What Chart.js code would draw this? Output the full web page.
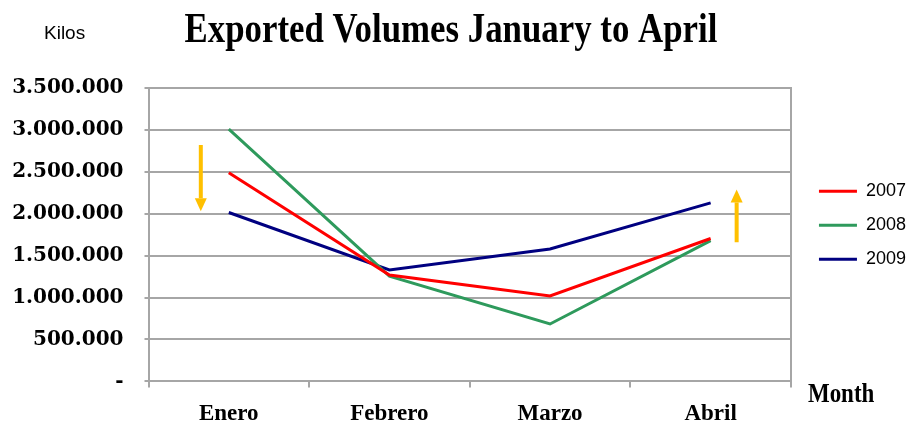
<!DOCTYPE html>
<html>
<head>
<meta charset="utf-8">
<script src="https://cdn.jsdelivr.net/npm/chart.js@4.4.1/dist/chart.umd.min.js"></script>
<style>
  html, body { margin: 0; padding: 0; background: #fff; }
  #wrap { width: 908px; height: 427px; }
</style>
</head>
<body>
<div id="wrap"><canvas id="myChart"></canvas></div>
<script>
// DATA
const months = ['Enero', 'Febrero', 'Marzo', 'Abril'];
const years = ['2007', '2008', '2009'];
const kilos2007 = [2490000, 1270000, 1020000, 1705000];
const kilos2008 = [3010000, 1255000, 685000, 1680000];
const kilos2009 = [2015000, 1330000, 1580000, 2130000];
const yTicks = [0, 500000, 1000000, 1500000, 2000000, 2500000, 3000000, 3500000];
// yellow trend arrows: month index, start value, end value
const arrowMonth = [0, 3];
const arrowFrom = [2820000, 1660000];
const arrowTo = [2030000, 2290000];

const titleText = 'Exported Volumes January to April';
const unitText = 'Kilos';
const xTitleText = 'Month';

const grey = '#a6a6a6';

// dots as thousand separators, zero shown as '-'
const fmt = v => v === 0 ? '-' : String(v).replace(/\B(?=(\d{3})+(?!\d))/g, '.');

// texts around the plot (title, unit, axis name)
const textPlugin = {
  id: 'texts',
  afterDraw(chart) {
    const ctx = chart.ctx;
    const area = chart.chartArea;
    ctx.save();
    ctx.fillStyle = '#000';
    ctx.textBaseline = 'alphabetic';

    ctx.save();
    ctx.font = 'bold 43px "Liberation Serif"';
    ctx.textAlign = 'center';
    ctx.translate(chart.width / 2 - 3, 42);
    ctx.scale(0.81, 1);
    ctx.fillText(titleText, 0, 0);
    ctx.restore();

    ctx.font = '19px "Liberation Sans"';
    ctx.textAlign = 'left';
    ctx.fillText(unitText, 44, 39);

    ctx.save();
    ctx.font = 'bold 28px "Liberation Serif"';
    ctx.translate(area.right + 17, area.bottom + 21);
    ctx.scale(0.82, 1);
    ctx.fillText(xTitleText, 0, 0);
    ctx.restore();

    ctx.restore();
  }
};

const arrowPlugin = {
  id: 'arrows',
  afterDatasetsDraw(chart) {
    const ctx = chart.ctx;
    const xs = chart.scales.x, ys = chart.scales.y;
    const dx = [-28, 26];
    ctx.save();
    ctx.fillStyle = '#ffc000';
    ctx.strokeStyle = '#ffc000';
    arrowMonth.forEach((m, i) => {
      const x = xs.getPixelForValue(m) + dx[i];
      const y1 = ys.getPixelForValue(arrowFrom[i]);
      const y2 = ys.getPixelForValue(arrowTo[i]);
      const dir = y2 > y1 ? 1 : -1;
      const head = 13;
      ctx.lineWidth = 4;
      ctx.beginPath();
      ctx.moveTo(x, y1);
      ctx.lineTo(x, y2 - dir * head);
      ctx.stroke();
      ctx.beginPath();
      ctx.moveTo(x - 6, y2 - dir * head);
      ctx.lineTo(x + 6, y2 - dir * head);
      ctx.lineTo(x, y2);
      ctx.closePath();
      ctx.fill();
    });
    ctx.restore();
  }
};

const ctx = document.getElementById('myChart');

new Chart(ctx, {
  type: 'line',
  data: {
    labels: months,
    datasets: [
      { label: years[0], data: kilos2007, borderColor: '#ff0000', backgroundColor: '#ff0000', borderWidth: 3 },
      { label: years[1], data: kilos2008, borderColor: '#2e9a5c', backgroundColor: '#2e9a5c', borderWidth: 3 },
      { label: years[2], data: kilos2009, borderColor: '#000080', backgroundColor: '#000080', borderWidth: 3 }
    ]
  },
  options: {
    responsive: true,
    maintainAspectRatio: false,
    animation: false,
    elements: {
      line: { borderWidth: 3, tension: 0 },
      point: { radius: 0 }
    },
    layout: { padding: { top: 88, left: -5, right: -8, bottom: -14 } },
    scales: {
      x: {
        offset: true,
        grid: { offset: true, drawOnChartArea: false, color: grey, lineWidth: 2, tickLength: 6 },
        border: { color: grey, width: 2 },
        ticks: { color: '#000', padding: 13, font: { family: 'Liberation Serif', weight: 'bold', size: 23 } }
      },
      y: {
        min: 0,
        max: 3500000,
        afterBuildTicks: axis => { axis.ticks = yTicks.map(v => ({ value: v })); },
        grid: { color: grey, lineWidth: 2, tickLength: 4 },
        border: { color: grey, width: 2 },
        ticks: {
          color: '#000',
          padding: 21,
          callback: v => fmt(v),
          font: { family: 'DejaVu Serif', weight: 'bold', size: 20 }
        }
      },
      y2: {
        position: 'right',
        grid: { drawOnChartArea: false, drawTicks: true, tickLength: 12, color: 'rgba(0,0,0,0)' },
        border: { color: grey, width: 2 },
        ticks: { display: false }
      }
    },
    plugins: {
      tooltip: { enabled: false },
      legend: {
        position: 'right',
        align: 'start',
        title: { display: true, text: ' ', font: { size: 1 }, padding: { top: 0, bottom: 77 } },
        labels: {
          usePointStyle: true,
          pointStyle: 'line',
          pointStyleWidth: 38,
          padding: 16,
          color: '#000',
          font: { family: 'Liberation Sans', size: 18 }
        }
      }
    }
  },
  plugins: [textPlugin, arrowPlugin]
});
</script>
</body>
</html>
